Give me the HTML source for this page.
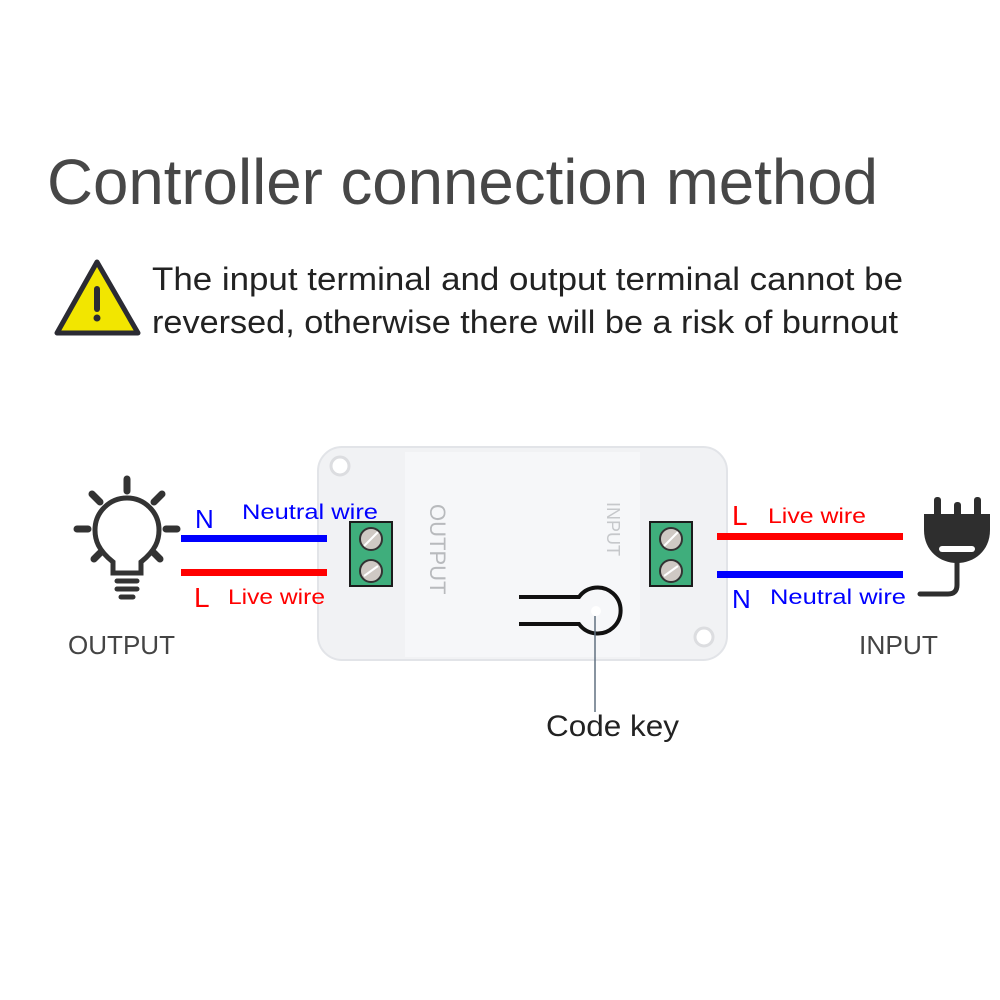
<!DOCTYPE html>
<html><head><meta charset="utf-8"><style>
html,body{margin:0;padding:0;background:#fff;}
svg{display:block;}
text{font-family:"Liberation Sans","DejaVu Sans",sans-serif;}
</style></head><body>
<svg width="1000" height="1000" viewBox="0 0 1000 1000" xmlns="http://www.w3.org/2000/svg">
<rect width="1000" height="1000" fill="#fff"/>
<text x="47" y="204" font-size="64" fill="#474747" textLength="831" lengthAdjust="spacingAndGlyphs">Controller connection method</text>
<!-- warning -->
<polygon points="97,262 57,333 138,333" fill="#f2e600" stroke="#2b2b33" stroke-width="5" stroke-linejoin="round"/>
<polygon points="97,275 69,326 125,326" fill="#f2e600"/>
<path d="M97,289 L97,309" stroke="#2b2b33" stroke-width="6" stroke-linecap="round"/>
<circle cx="97" cy="318" r="3.5" fill="#2b2b33"/>
<text x="152" y="290" font-size="32" fill="#222" textLength="751" lengthAdjust="spacingAndGlyphs">The input terminal and output terminal cannot be</text>
<text x="152" y="333" font-size="32" fill="#222" textLength="746" lengthAdjust="spacingAndGlyphs">reversed, otherwise there will be a risk of burnout</text>
<!-- device -->
<rect x="318" y="447" width="409" height="213" rx="24" fill="#f1f2f4" stroke="#e2e4e8" stroke-width="2"/>
<rect x="405" y="452" width="235" height="205" fill="#f6f7f9"/>
<circle cx="340" cy="466" r="9" fill="#fff" stroke="#dcdde0" stroke-width="3"/>
<circle cx="704" cy="637" r="9" fill="#fff" stroke="#dcdde0" stroke-width="3"/>
<text x="0" y="0" font-size="22" fill="#b8babd" transform="translate(430,504) rotate(90)">OUTPUT</text>
<text x="0" y="0" font-size="18" fill="#c6c8cb" transform="translate(607,502) rotate(90)">INPUT</text>
<rect x="350" y="522" width="42" height="64" fill="#3fae7c" stroke="#1c1c1c" stroke-width="2"/>
<rect x="650" y="522" width="42" height="64" fill="#3fae7c" stroke="#1c1c1c" stroke-width="2"/>
<g fill="#cfc9c4" stroke="#333" stroke-width="2">
<circle cx="371" cy="539" r="11"/><circle cx="371" cy="571" r="11"/>
<circle cx="671" cy="539" r="11"/><circle cx="671" cy="571" r="11"/>
</g>
<g stroke="#fff" stroke-width="2">
<line x1="364" y1="546" x2="378" y2="532"/><line x1="364" y1="576" x2="378" y2="566"/>
<line x1="664" y1="546" x2="678" y2="532"/><line x1="664" y1="576" x2="678" y2="566"/>
</g>
<!-- keyhole -->
<path d="M519,597 L579,597 A23,23 0 1 1 579,624 L519,624" fill="none" stroke="#111" stroke-width="4"/>
<circle cx="596" cy="611" r="5" fill="#fff"/>
<line x1="595" y1="616" x2="595" y2="712" stroke="#607080" stroke-width="1.5"/>
<text x="546" y="736" font-size="30" fill="#222" textLength="133" lengthAdjust="spacingAndGlyphs">Code key</text>
<!-- wires -->
<rect x="181" y="535" width="146" height="7" fill="#0000ff"/>
<rect x="181" y="569" width="146" height="7" fill="#ff0000"/>
<rect x="717" y="533" width="186" height="7" fill="#ff0000"/>
<rect x="717" y="571" width="186" height="7" fill="#0000ff"/>
<text x="195" y="528" font-size="26" fill="#0000ff">N</text>
<text x="242" y="519" font-size="21" fill="#0000ff" textLength="136" lengthAdjust="spacingAndGlyphs">Neutral wire</text>
<text x="194" y="607" font-size="28" fill="#ff0000">L</text>
<text x="228" y="604" font-size="21" fill="#ff0000" textLength="97" lengthAdjust="spacingAndGlyphs">Live wire</text>
<text x="732" y="525" font-size="28" fill="#ff0000">L</text>
<text x="768" y="523" font-size="21" fill="#ff0000" textLength="98" lengthAdjust="spacingAndGlyphs">Live wire</text>
<text x="732" y="608" font-size="26" fill="#0000ff">N</text>
<text x="770" y="604" font-size="21" fill="#0000ff" textLength="136" lengthAdjust="spacingAndGlyphs">Neutral wire</text>
<text x="68" y="654" font-size="26" fill="#444" textLength="107" lengthAdjust="spacingAndGlyphs">OUTPUT</text>
<text x="859" y="654" font-size="26" fill="#444" textLength="79" lengthAdjust="spacingAndGlyphs">INPUT</text>
<!-- bulb -->
<g stroke="#333" stroke-width="7" stroke-linecap="round" fill="none">
<line x1="127" y1="479" x2="127" y2="491"/>
<line x1="92" y1="494" x2="100" y2="502"/>
<line x1="162" y1="494" x2="154" y2="502"/>
<line x1="77" y1="529" x2="88" y2="529"/>
<line x1="166" y1="529" x2="177" y2="529"/>
<line x1="94" y1="559" x2="100" y2="553"/>
<line x1="160" y1="559" x2="154" y2="553"/>
<path d="M113,573 L113,562 C98,550 95,540 95,530 A32,32 0 0 1 159,530 C159,540 156,550 141,562 L141,573 Z" stroke-width="5"/>
<line x1="117" y1="581" x2="137" y2="581" stroke-width="5"/>
<line x1="117" y1="589" x2="137" y2="589" stroke-width="5"/>
<line x1="121" y1="597" x2="133" y2="597" stroke-width="5"/>
</g>
<!-- plug -->
<g fill="#2e2e2e">
<rect x="934" y="497" width="7" height="20" rx="3"/>
<rect x="954" y="502" width="7" height="15" rx="3"/>
<rect x="974" y="497" width="7" height="20" rx="3"/>
<path d="M924,514 L990,514 L990,530 C990,551 974,563 957,563 C940,563 924,551 924,530 Z"/>
</g>
<rect x="939" y="546" width="36" height="6" rx="3" fill="#fff"/>
<path d="M957,563 L957,585 Q957,594 948,594 L920,594" fill="none" stroke="#2e2e2e" stroke-width="5" stroke-linecap="round"/>
</svg>
</body></html>
